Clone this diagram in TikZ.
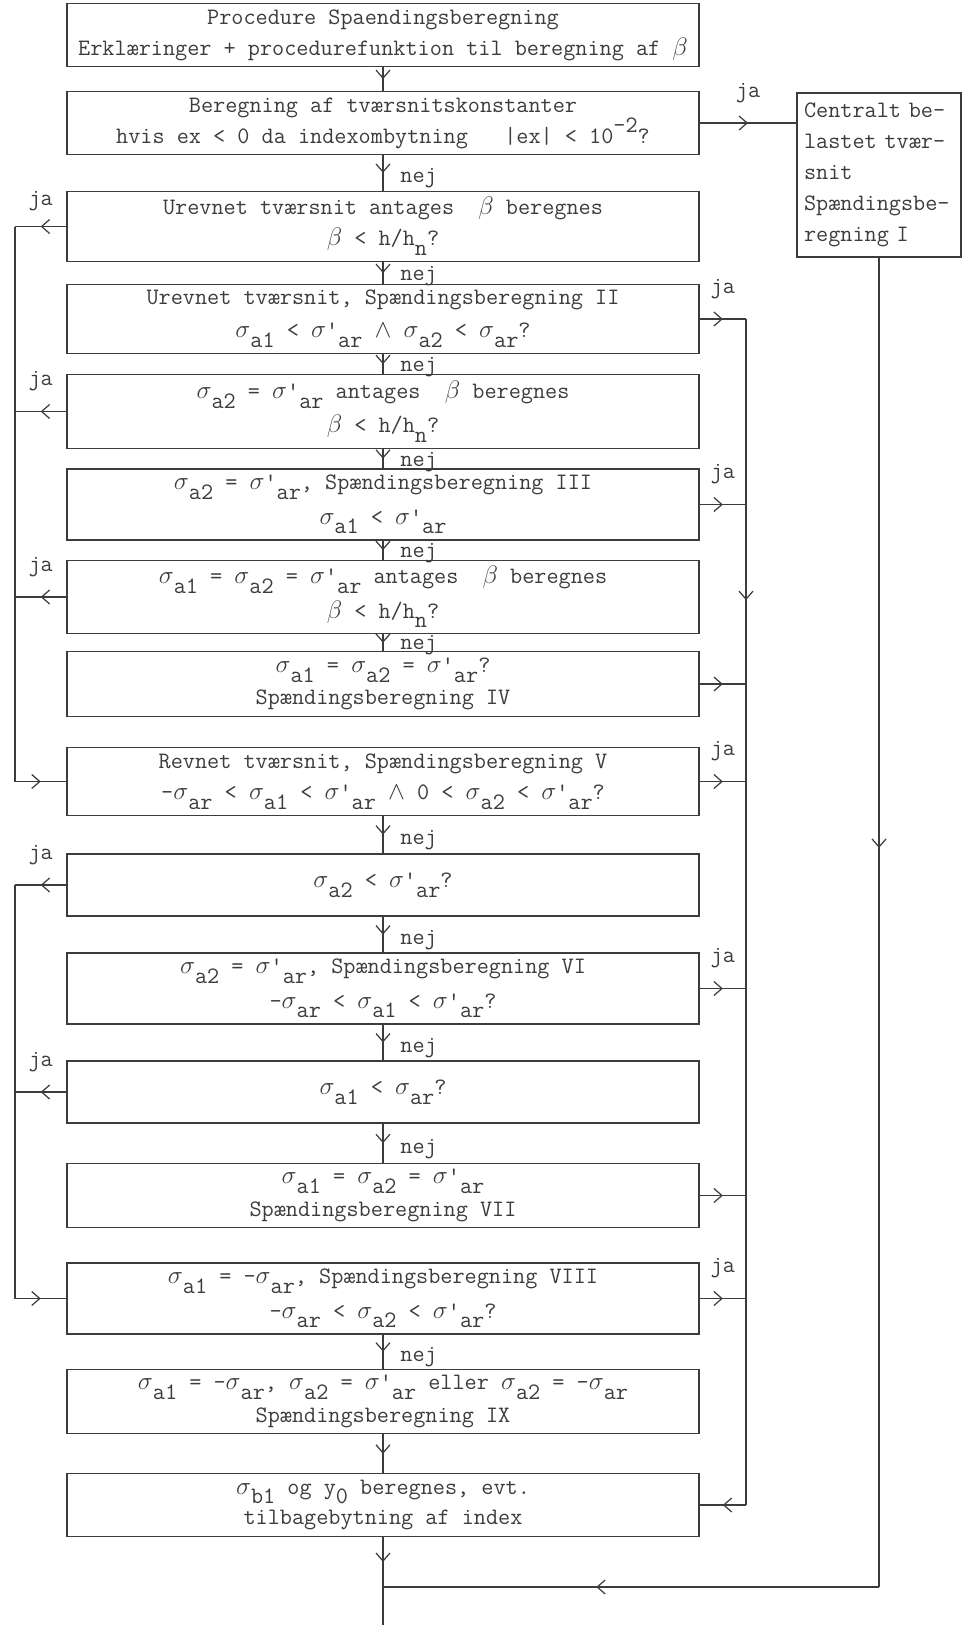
\documentclass[tikz,border=0pt]{standalone}
\usepackage{tikz}
\usetikzlibrary{arrows.meta, positioning, decorations.markings}
\definecolor{ink}{RGB}{60, 60, 60}
\newcommand{\sg}{$\sigma$}
\newcommand{\sbs}[1]{\raisebox{-0.42em}{#1}}
\newcommand{\sps}[1]{\raisebox{0.45em}{#1}}
\newcommand{\prm}{\textquotesingle}

\begin{document}
\begin{tikzpicture}[
    font=\fontsize{13.4}{17.6}\selectfont\ttfamily,
    calc/.style={draw=ink, text=ink, line width=0.7pt, minimum width=12.64cm, inner xsep=2pt, align=center},
    cbox/.style={draw=ink, text=ink, line width=0.7pt, minimum width=3.28cm, minimum height=3.28cm, text width=3.0cm, inner xsep=0.14cm, align=left},
    link/.style={draw=ink, line width=0.7pt},
    midarrow/.style={postaction={decorate, decoration={markings, mark=at position #1 with {\arrow{Straight Barb[length=1.6mm, width=2.8mm]}}}}},
    midarrow/.default=0.5,
    nej/.style={right=0.22cm, pos=0.65, text=ink},
    ja/.style={midway, yshift=0.6cm, text=ink}
]
    \useasboundingbox (0,0) rectangle (19.22,-32.5);

    % Boxes
    \node[calc, minimum height=1.08cm] (proc) at (7.66,-0.70) {Procedure Spaendingsberegning\\Erklæringer + procedurefunktion til beregning af $\beta$};
    \node[calc, minimum height=1.20cm] (konst) at (7.66,-2.46) {Beregning af tværsnitskonstanter\\hvis ex < 0 da indexombytning\ \ \ |ex| < 10\sps{-2}?};
    \node[cbox] (central) at (17.58,-3.50) {Centralt be-\\lastet tvær-\\snit\\Spændingsbe-\\regning I};
    \node[calc, minimum height=1.22cm] (urevA) at (7.66,-4.53) {Urevnet tværsnit antages\ \ $\beta$ beregnes\\$\beta$ < h/h\sbs{n}?};
    \node[calc, minimum height=1.24cm] (sbII) at (7.66,-6.38) {Urevnet tværsnit, Spændingsberegning II\\[1pt]\sg\sbs{a1} < \sg\prm\sbs{ar} $\wedge$ \sg\sbs{a2} < \sg\sbs{ar}?};
    \node[calc, minimum height=1.26cm] (urevB) at (7.66,-8.23) {\sg\sbs{a2} = \sg\prm\sbs{ar} antages\ \ $\beta$ beregnes\\[2pt]$\beta$ < h/h\sbs{n}?};
    \node[calc, minimum height=1.26cm] (sbIII) at (7.66,-10.09) {\sg\sbs{a2} = \sg\prm\sbs{ar}, Spændingsberegning III\\[2pt]\sg\sbs{a1} < \sg\prm\sbs{ar}};
    \node[calc, minimum height=1.24cm] (urevC) at (7.66,-11.94) {\sg\sbs{a1} = \sg\sbs{a2} = \sg\prm\sbs{ar} antages\ \ $\beta$ beregnes\\[2pt]$\beta$ < h/h\sbs{n}?};
    \node[calc, minimum height=1.00cm] (sbIV) at (7.66,-13.68) {\sg\sbs{a1} = \sg\sbs{a2} = \sg\prm\sbs{ar}?\\[1pt]Spændingsberegning IV};
    \node[calc, minimum height=1.22cm] (sbV) at (7.66,-15.63) {Revnet tværsnit, Spændingsberegning V\\-\sg\sbs{ar} < \sg\sbs{a1} < \sg\prm\sbs{ar} $\wedge$ 0 < \sg\sbs{a2} < \sg\prm\sbs{ar}?};
    \node[calc, minimum height=1.24cm] (testA) at (7.66,-17.70) {\sg\sbs{a2} < \sg\prm\sbs{ar}?};
    \node[calc, minimum height=1.22cm] (sbVI) at (7.66,-19.77) {\sg\sbs{a2} = \sg\prm\sbs{ar}, Spændingsberegning VI\\[2pt]-\sg\sbs{ar} < \sg\sbs{a1} < \sg\prm\sbs{ar}?};
    \node[calc, minimum height=1.24cm] (testB) at (7.66,-21.84) {\sg\sbs{a1} < \sg\sbs{ar}?};
    \node[calc, minimum height=1.26cm] (sbVII) at (7.66,-23.91) {\sg\sbs{a1} = \sg\sbs{a2} = \sg\prm\sbs{ar}\\[1pt]Spændingsberegning VII};
    \node[calc, minimum height=1.26cm] (sbVIII) at (7.66,-25.97) {\sg\sbs{a1} = -\sg\sbs{ar}, Spændingsberegning VIII\\[2pt]-\sg\sbs{ar} < \sg\sbs{a2} < \sg\prm\sbs{ar}?};
    \node[calc, minimum height=1.22cm] (sbIX) at (7.66,-28.03) {\sg\sbs{a1} = -\sg\sbs{ar}, \sg\sbs{a2} = \sg\prm\sbs{ar} eller \sg\sbs{a2} = -\sg\sbs{ar}\\[1pt]Spændingsberegning IX};
    \node[calc, minimum height=1.24cm] (final) at (7.66,-30.10) {\sg\sbs{b1} og y\sbs{0} beregnes, evt.\\tilbagebytning af index};

    % Side lines and exit
    \coordinate (lft) at (0.30,0);
    \coordinate (rgt) at (14.92,0);
    \coordinate (join) at (7.66,-31.74);
    \coordinate (out) at (7.66,-32.5);

    % nej path
    \draw[link, midarrow] (proc) -- (konst);
    \draw[link, midarrow] (konst) -- node[nej] {nej} (urevA);
    \draw[link, midarrow] (urevA) -- node[nej] {nej} (sbII);
    \draw[link, midarrow] (sbII) -- node[nej] {nej} (urevB);
    \draw[link, midarrow] (urevB) -- node[nej] {nej} (sbIII);
    \draw[link, midarrow] (sbIII) -- node[nej] {nej} (urevC);
    \draw[link, midarrow] (urevC) -- node[nej] {nej} (sbIV);
    \draw[link, midarrow] (sbV) -- node[nej] {nej} (testA);
    \draw[link, midarrow] (testA) -- node[nej] {nej} (sbVI);
    \draw[link, midarrow] (sbVI) -- node[nej] {nej} (testB);
    \draw[link, midarrow] (testB) -- node[nej] {nej} (sbVII);
    \draw[link, midarrow] (sbVIII) -- node[nej] {nej} (sbIX);
    \draw[link, midarrow] (sbIX) -- (final);

    % ja to the left
    \draw[link, midarrow] (urevA.west) -- node[ja, yshift=-0.1cm] {ja} (urevA.west -| lft);
    \draw[link, midarrow] (urevB.west) -- node[ja] {ja} (urevB.west -| lft);
    \draw[link, midarrow] (urevC.west) -- node[ja] {ja} (urevC.west -| lft);
    \draw[link] (urevA.west -| lft) -- (sbV.west -| lft);
    \draw[link, midarrow] (sbV.west -| lft) -- (sbV.west);
    \draw[link, midarrow] (testA.west) -- node[ja] {ja} (testA.west -| lft);
    \draw[link, midarrow] (testB.west) -- node[ja] {ja} (testB.west -| lft);
    \draw[link] (testA.west -| lft) -- (sbVIII.west -| lft);
    \draw[link, midarrow] (sbVIII.west -| lft) -- (sbVIII.west);

    % ja to the right
    \draw[link, midarrow] (konst.east) -- node[ja] {ja} (konst.east -| central.west);
    \draw[link, midarrow] (sbII.east) -- node[ja] {ja} (sbII.east -| rgt);
    \draw[link, midarrow] (sbIII.east) -- node[ja] {ja} (sbIII.east -| rgt);
    \draw[link, midarrow] (sbIV.east) -- (sbIV.east -| rgt);
    \draw[link, midarrow] (sbV.east) -- node[ja] {ja} (sbV.east -| rgt);
    \draw[link, midarrow] (sbVI.east) -- node[ja] {ja} (sbVI.east -| rgt);
    \draw[link, midarrow] (sbVII.east) -- (sbVII.east -| rgt);
    \draw[link, midarrow] (sbVIII.east) -- node[ja] {ja} (sbVIII.east -| rgt);
    \draw[link, midarrow=0.237] (sbII.east -| rgt) -- (final.east -| rgt);
    \draw[link, midarrow] (final.east -| rgt) -- (final.east);

    % Centralt belastet
    \draw[link, midarrow=0.444] (central) -- (central |- join);
    \draw[link, midarrow=0.57] (central |- join) -- (join);
    \draw[link, midarrow] (final) -- (join);
    \draw[link] (join) -- (out);

\end{tikzpicture}
\end{document}
